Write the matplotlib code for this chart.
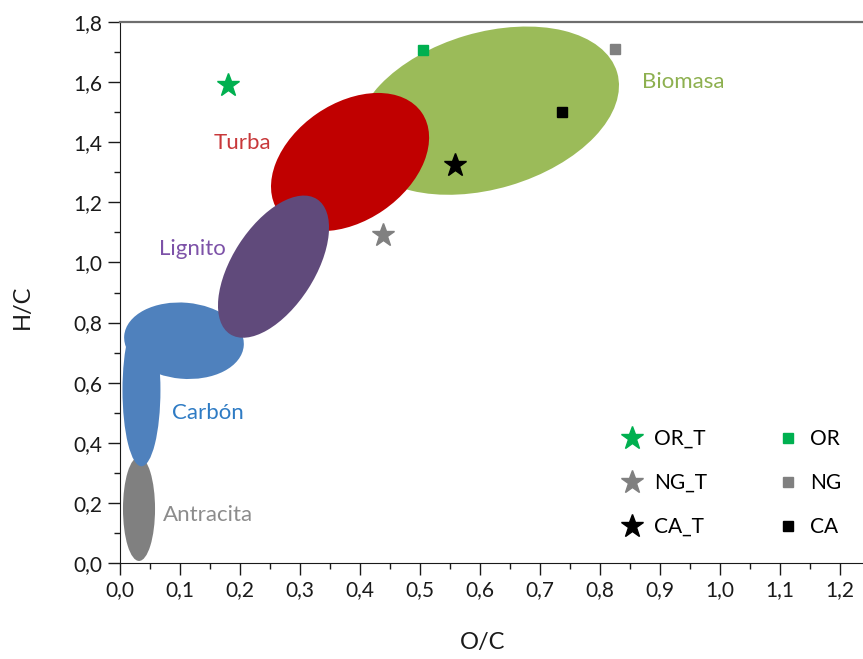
import matplotlib
matplotlib.use("Agg")
import matplotlib.pyplot as plt
from matplotlib.patches import Ellipse
from matplotlib.lines import Line2D
from matplotlib.transforms import Affine2D
from matplotlib.ticker import MultipleLocator, FuncFormatter

plt.rcParams['font.family'] = ['Lato', 'DejaVu Sans']

# ---- data -------------------------------------------------------------
# Reference fuel regions (Van Krevelen): centre O/C, centre H/C
region_names = ["Biomasa", "Turba", "Antracita", "Carbón", "Carbón", "Lignito"]
region_oc = [0.613, 0.384, 0.0325, 0.0366, 0.1074, 0.2565]
region_hc = [1.505, 1.334, 0.180, 0.575, 0.7395, 0.986]

# Samples
star_labels = ["OR_T", "NG_T", "CA_T"]
star_oc = [0.180, 0.439, 0.559]
star_hc = [1.589, 1.090, 1.323]

square_labels = ["OR", "NG", "CA"]
square_oc = [0.505, 0.826, 0.737]
square_hc = [1.707, 1.709, 1.502]

x_ticks = [0.0, 0.1, 0.2, 0.3, 0.4, 0.5, 0.6, 0.7, 0.8, 0.9, 1.0, 1.1, 1.2]
y_ticks = [0.0, 0.2, 0.4, 0.6, 0.8, 1.0, 1.2, 1.4, 1.6, 1.8]

# ---- styles -----------------------------------------------------------
# semi-axes (in O/C units, visually isotropic), rotation angle, colour
region_shape = [
    (0.2250, 0.130, 16.4, "#9BBB59"),
    (0.145, 0.0976, 34.5, "#C00000"),
    (0.0866, 0.0267, 90.0, "#808080"),
    (0.1266, 0.0316, 90.0, "#4F81BD"),
    (0.0999, 0.0633, -5.0, "#4F81BD"),
    (0.1336, 0.0685, 57.2, "#604A7B"),
]
label_pos = {  # text anchors (O/C, H/C) and colours
    "Biomasa": (0.9385, 1.602, "#8DB04F"),
    "Turba": (0.204, 1.396, "#C8383A"),
    "Lignito": (0.121, 1.046, "#7D52A8"),
    "Carbón": (0.147, 0.500, "#2E7BC4"),
    "Antracita": (0.148, 0.160, "#8C8C8C"),
}
star_colors = ["#00B050", "#808080", "#000000"]
square_colors = ["#00B050", "#808080", "#000000"]

W, H = 863, 659
fig = plt.figure(figsize=(W / 100, H / 100), dpi=100)
ax = fig.add_axes([119.5 / W, 96 / H, (W - 119.5) / W, 541 / H])
ax.set_xlim(0, (W - 119.5) / 600.4)
ax.set_ylim(0, 1.8)

# isotropic helper transform: data y is drawn as y/2 in shape space
k = 2.0
iso = Affine2D().scale(1, k) + ax.transData

for name, cx, cy, (a, b, ang, col) in zip(region_names, region_oc, region_hc, region_shape):
    e = Ellipse((cx, cy / k), width=2 * a, height=2 * b, angle=ang,
                facecolor=col, edgecolor='none', transform=iso, zorder=1)
    ax.add_patch(e)

for name, (tx, ty, tc) in label_pos.items():
    ax.text(tx, ty, name, color=tc, fontsize=16, ha='center', va='center', zorder=3)

for x, y, c in zip(star_oc, star_hc, star_colors):
    ax.plot(x, y, marker='*', color=c, markersize=17, linestyle='none', zorder=5)
for x, y, c in zip(square_oc, square_hc, square_colors):
    ax.plot(x, y, marker='s', color=c, markersize=7.5, linestyle='none', zorder=5)

handles = []
for lab, c in zip(star_labels, star_colors):
    handles.append(Line2D([], [], marker='*', color=c, markersize=17, linestyle='none', label=lab))
for lab, c in zip(square_labels, square_colors):
    handles.append(Line2D([], [], marker='s', color=c, markersize=7.5, linestyle='none', label=lab))
leg = ax.legend(handles=handles, ncol=2, frameon=False, fontsize=15,
                loc='upper left', bbox_to_anchor=(621.5 / W, 1 - 429 / H),
                bbox_transform=fig.transFigure, borderpad=0, borderaxespad=0,
                handlelength=1.0, handletextpad=0.55, labelspacing=1.15,
                columnspacing=3.4)

# axes styling
ax.xaxis.set_minor_locator(MultipleLocator(0.05))
ax.yaxis.set_minor_locator(MultipleLocator(0.1))
ax.set_xticks(x_ticks)
ax.set_yticks(y_ticks)
fmt = FuncFormatter(lambda v, p: f"{v:.1f}".replace('.', ','))
ax.xaxis.set_major_formatter(fmt)
ax.yaxis.set_major_formatter(fmt)
ax.tick_params(which='major', direction='out', length=8.5, width=1.0, color='#1a1a1a',
               labelsize=15, labelcolor='#1a1a1a', pad=4)
ax.tick_params(which='minor', direction='out', length=4.3, width=1.0, color='#1a1a1a')
ax.spines['right'].set_visible(False)
ax.spines['left'].set_color('#1a1a1a')
ax.spines['bottom'].set_color('#1a1a1a')
ax.spines['top'].set_color('#6e6e6e')
ax.spines['top'].set_linewidth(1.6)

ax.set_xlabel("O/C", fontsize=17, color='#1a1a1a')
ax.set_ylabel("H/C", fontsize=17, color='#1a1a1a')
ax.xaxis.set_label_coords((483 - 119.5) / 743.5, (563 - 632) / 541)
ax.yaxis.set_label_coords((33 - 119.5) / 743.5, (563 - 307) / 541)

fig.savefig("out.png", dpi=100)
